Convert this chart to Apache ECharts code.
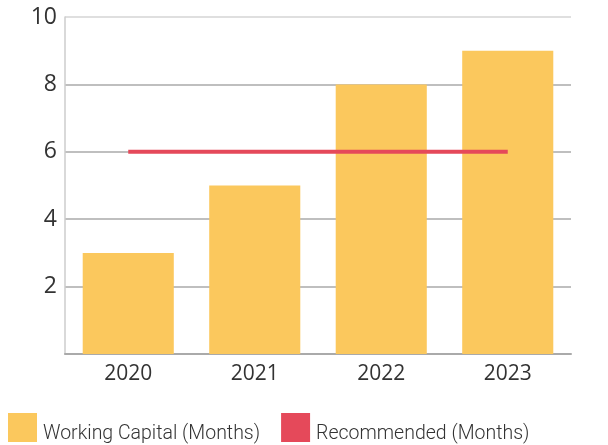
<!DOCTYPE html>
<html>
<head>
<meta charset="utf-8">
<script src="https://cdn.jsdelivr.net/npm/echarts@6/dist/echarts.min.js"></script>
<style>
  html, body { margin: 0; padding: 0; background: #fff; }
  #main { width: 608px; height: 445px; }
</style>
</head>
<body>
<div id="main"></div>
<script>
var years = ["2020", "2021", "2022", "2023"];
var workingCapital = [3, 5, 8, 9];
var recommended = [6, 6, 6, 6];
var yTicks = [0, 2, 4, 6, 8, 10];

var chart = echarts.init(document.getElementById("main"));
var font = "'Open Sans', 'Noto Sans', sans-serif";

var option = {
  animation: false,
  grid: { left: 65, right: 37, top: 17, bottom: 91 },
  legend: {
    left: 8,
    top: 413,
    padding: 0,
    width: 620,
    itemWidth: 29,
    itemHeight: 29,
    itemGap: 21,
    icon: "rect",
    formatter: function (name) { return "{t|" + name + "}"; },
    textStyle: {
      fontFamily: "Roboto, sans-serif", fontWeight: 300, fontSize: 19.5, color: "#333",
      rich: {
        t: { fontFamily: "Roboto, sans-serif", fontWeight: 300, fontSize: 19.5, color: "#333", padding: [14, 0, 0, 1] }
      }
    },
    data: ["Working Capital (Months)", "Recommended (Months)"]
  },
  xAxis: {
    type: "category",
    data: years,
    axisLine: { lineStyle: { color: "#aaa", width: 2 } },
    axisTick: { inside: true, length: 8, lineStyle: { color: "#aaa", width: 2 } },
    axisLabel: { fontFamily: font, fontSize: 21, color: "#333", margin: 10 }
  },
  yAxis: {
    type: "value",
    min: yTicks[0],
    max: yTicks[yTicks.length - 1],
    interval: 2,
    axisLine: { show: true, lineStyle: { color: "#ccc", width: 1.5 } },
    axisTick: { show: false },
    splitLine: { lineStyle: { color: ["#aaa", "#aaa", "#aaa", "#aaa", "#aaa", "#d5d5d5"], width: 1.5 } },
    axisLabel: {
      fontFamily: font, fontSize: 23, color: "#333", margin: 8,
      formatter: function (v) { return v === 0 ? "" : String(v); }
    }
  },
  series: [
    {
      name: "Working Capital (Months)",
      type: "bar",
      data: workingCapital,
      barWidth: "72%",
      itemStyle: { color: "#FBC85D" }
    },
    {
      name: "Recommended (Months)",
      type: "line",
      data: recommended,
      symbol: "none",
      lineStyle: { color: "#E5495A", width: 4 },
      itemStyle: { color: "#E5495A" },
      z: 5
    }
  ]
};

chart.setOption(option);
</script>
</body>
</html>
